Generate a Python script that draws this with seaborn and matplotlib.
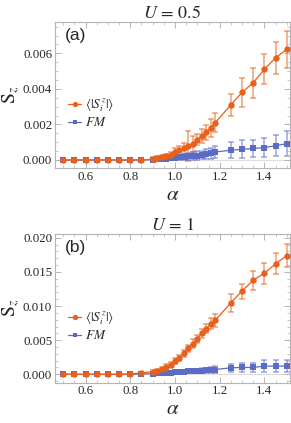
import numpy as np
import matplotlib
matplotlib.use("Agg")
import matplotlib.pyplot as plt
import seaborn as sns
from matplotlib.lines import Line2D
from matplotlib.ticker import MultipleLocator

# data (in units of 1e-3)
alpha = [0.5, 0.55, 0.6, 0.65, 0.7, 0.75, 0.8, 0.85,
         0.9, 0.92, 0.94, 0.96, 0.98, 1.0, 1.02, 1.04, 1.06, 1.08,
         1.1, 1.12, 1.14, 1.16, 1.18, 1.25, 1.3, 1.35, 1.4, 1.45, 1.5]

# panel (a): U = 0.5
sz_a = [0, 0, 0, 0, 0, 0, 0, 0,
        0.05, 0.1, 0.15, 0.2, 0.3, 0.45, 0.55, 0.65, 0.8, 0.9,
        1.15, 1.35, 1.55, 1.82, 2.1, 3.1, 3.8, 4.35, 5.1, 5.75, 6.22]
sz_a_err = [0, 0, 0, 0, 0, 0, 0, 0,
            0.1, 0.1, 0.12, 0.15, 0.15, 0.2, 0.25, 0.3, 0.85, 0.45,
            0.3, 0.4, 0.4, 0.5, 0.55, 0.6, 0.8, 0.85, 0.85, 0.9, 1.05]
fm_a = [0, 0, 0, 0, 0, 0, 0, 0,
        0.02, 0.04, 0.05, 0.07, 0.09, 0.12, 0.15, 0.17, 0.2, 0.22,
        0.25, 0.28, 0.33, 0.38, 0.45, 0.55, 0.6, 0.65, 0.7, 0.8, 0.92]
fm_a_err = [0, 0, 0, 0, 0, 0, 0, 0,
            0.05, 0.06, 0.07, 0.08, 0.1, 0.12, 0.15, 0.18, 0.2, 0.22,
            0.25, 0.25, 0.28, 0.3, 0.35, 0.45, 0.5, 0.5, 0.55, 0.6, 0.72]

# panel (b): U = 1
sz_b = [0, 0, 0, 0, 0, 0, 0.05, 0.2,
        0.4, 0.5, 0.8, 1.1, 1.4, 1.9, 2.4, 3.1, 3.8, 4.5,
        5.2, 6.0, 6.7, 7.4, 7.9, 10.5, 12.2, 13.8, 14.8, 16.2, 17.4]
sz_b_err = [0, 0, 0, 0, 0, 0, 0.05, 0.15,
            0.25, 0.3, 0.3, 0.35, 0.4, 0.45, 0.5, 0.5, 0.55, 0.6,
            0.6, 0.65, 0.7, 0.8, 0.9, 1.3, 1.1, 1.4, 1.5, 1.5, 1.7]
fm_b = [0, 0, 0, 0, 0, 0, 0, 0.05,
        0.1, 0.15, 0.15, 0.2, 0.25, 0.3, 0.35, 0.4, 0.45, 0.5,
        0.5, 0.55, 0.6, 0.65, 0.7, 0.95, 1.0, 1.0, 1.2, 1.2, 1.2]
fm_b_err = [0, 0, 0, 0, 0, 0, 0, 0.05,
            0.1, 0.12, 0.14, 0.16, 0.18, 0.2, 0.22, 0.25, 0.28, 0.3,
            0.32, 0.35, 0.38, 0.4, 0.45, 0.6, 0.7, 0.7, 0.85, 0.85, 0.85]

orange = "#E8601A"
blue = "#5B6CC6"

sns.set_theme(style="ticks")
plt.rcParams["font.family"] = ["Liberation Serif", "DejaVu Serif"]
plt.rcParams["mathtext.fontset"] = "stix"

fig = plt.figure(figsize=(2.91, 4.23), dpi=100)

panels = [
    dict(pos=[0.189, 0.602, 0.808, 0.346], sz=sz_a, sze=sz_a_err, fm=fm_a, fme=fm_a_err,
         title=r"$U\,=\,0.5$", tag="(a)", ylim=(-0.00047, 0.00776), major=0.002, minor=0.0005,
         leg_y=0.49),
    dict(pos=[0.189, 0.0953, 0.808, 0.3522], sz=sz_b, sze=sz_b_err, fm=fm_b, fme=fm_b_err,
         title=r"$U\,=\,1$", tag="(b)", ylim=(-0.00123, 0.0206), major=0.005, minor=0.001,
         leg_y=0.49),
]

for p in panels:
    ax = fig.add_axes(p["pos"])
    sz = np.array(p["sz"]) * 1e-3
    sze = np.array(p["sze"]) * 1e-3
    fm = np.array(p["fm"]) * 1e-3
    fme = np.array(p["fme"]) * 1e-3

    ax.axhline(0, color="#dddddd", lw=0.8, zorder=0)

    # error bars
    ax.errorbar(alpha, sz, yerr=sze, fmt="none", ecolor=orange, alpha=0.6,
                elinewidth=1.1, capsize=2.2, capthick=1.1)
    ax.errorbar(alpha, fm, yerr=fme, fmt="none", ecolor=blue, alpha=0.6,
                elinewidth=1.1, capsize=2.2, capthick=1.1)

    # lines with markers
    sns.lineplot(x=alpha, y=sz, ax=ax, color=orange, lw=0.9, marker="o",
                 markersize=4.6, markeredgewidth=0, zorder=4)
    sns.lineplot(x=alpha, y=fm, ax=ax, color=blue, lw=0.9, marker="s",
                 markersize=4.2, markeredgewidth=0, zorder=3)

    ax.set_xlim(0.463, 1.515)
    ax.set_ylim(*p["ylim"])
    ax.xaxis.set_major_locator(MultipleLocator(0.2))
    ax.xaxis.set_minor_locator(MultipleLocator(0.05))
    ax.yaxis.set_major_locator(MultipleLocator(p["major"]))
    ax.yaxis.set_minor_locator(MultipleLocator(p["minor"]))
    ax.yaxis.set_major_formatter(matplotlib.ticker.FormatStrFormatter("%.3f"))
    ax.xaxis.set_major_formatter(matplotlib.ticker.FormatStrFormatter("%.1f"))

    for s in ax.spines.values():
        s.set_color("#b4b4b4")
        s.set_linewidth(0.8)
    ax.tick_params(which="both", direction="in", top=True, right=True,
                   color="#b4b4b4", labelsize=9.3, pad=2)
    ax.tick_params(which="major", length=4, width=0.7)
    ax.tick_params(which="minor", length=2, width=0.5)

    ax.set_title(p["title"], fontsize=13, pad=3)
    ax.set_xlabel(r"$\alpha$", fontsize=15, labelpad=2)
    ax.set_ylabel(r"$\mathrm{S}_z$", fontsize=14, labelpad=1)
    ax.text(0.04, 0.905, p["tag"], transform=ax.transAxes, fontsize=12.5,
            family=["Liberation Sans", "DejaVu Sans"], va="center", ha="left")

    handles = [
        Line2D([], [], color=orange, lw=0.9, marker="o", markersize=3.8, markeredgewidth=0),
        Line2D([], [], color=blue, lw=0.9, marker="s", markersize=3.4, markeredgewidth=0),
    ]
    ax.legend(handles, [r"$\langle|S_i^z|\rangle$", r"$FM$"], loc="upper left",
              bbox_to_anchor=(0.055, p["leg_y"]), frameon=False, fontsize=9.5,
              handlelength=1.0, handletextpad=0.3, labelspacing=0.15,
              borderpad=0, borderaxespad=0)

fig.savefig("out.png", dpi=100)
